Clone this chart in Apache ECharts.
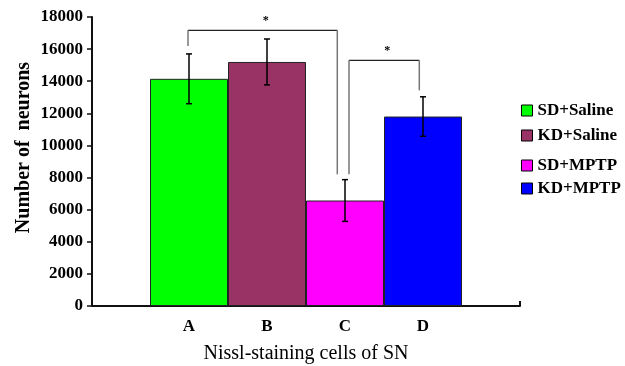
<!DOCTYPE html>
<html>
<head>
<meta charset="utf-8">
<script src="https://cdn.jsdelivr.net/npm/echarts@6/dist/echarts.min.js"></script>
<style>html,body{margin:0;padding:0;background:#fff}#c{width:625px;height:366px}</style>
</head>
<body>
<div id="c"></div>
<script>
// ---- data ----
const groups = ['SD+Saline', 'KD+Saline', 'SD+MPTP', 'KD+MPTP'];
const groupLabels = ['A', 'B', 'C', 'D'];
const means = [14150, 15200, 6570, 11800];
const errors = [1550, 1430, 1300, 1230];
const colors = ['#00ff00', '#993366', '#ff00ff', '#0000ff'];
const yTicks = [0, 2000, 4000, 6000, 8000, 10000, 12000, 14000, 16000, 18000];
// significance brackets: [fromGroup, toGroup, topValue, leftEndValue, rightEndValue, mark]
const brackets = [
  [0, 2, 17170, 16200, 8200, '*'],
  [2, 3, 15300, 8200, 13430, '*']
];

const BAR_W = 78;
const bracketOffsets = [[-1, -7.7], [4, -3.7]]; // px nudges of bracket legs

const chart = echarts.init(document.getElementById('c'), null, {renderer: 'canvas'});
const serif = '"Liberation Serif", "Times New Roman", serif';

const barSeries = groups.map((g, i) => ({
  name: g,
  type: 'bar',
  data: [means[i]],
  barWidth: BAR_W,
  barGap: '0%',
  itemStyle: {color: colors[i], borderColor: '#222', borderWidth: 1},
  label: {
    show: true, position: 'bottom', distance: 12,
    formatter: () => groupLabels[i],
    fontFamily: serif, fontWeight: 'bold', fontSize: 17, color: '#000'
  },
  emphasis: {disabled: true},
  z: 2
}));

function xOf(api, idx) {
  const c = api.coord([0, 0]);
  return c[0] + (idx - (groups.length - 1) / 2) * BAR_W;
}

const errSeries = {
  type: 'custom',
  data: means.map((m, i) => [0, m + errors[i], m - errors[i], i]),
  renderItem: function (params, api) {
    const i = api.value(3);
    const x = xOf(api, i);
    const yHi = api.coord([0, api.value(1)])[1];
    const yLo = api.coord([0, api.value(2)])[1];
    const st = {stroke: '#000', lineWidth: 1.5};
    const cap = 3;
    return {
      type: 'group',
      children: [
        {type: 'line', shape: {x1: x, y1: yHi, x2: x, y2: yLo}, style: st},
        {type: 'line', shape: {x1: x - cap, y1: yHi, x2: x + cap, y2: yHi}, style: st},
        {type: 'line', shape: {x1: x - cap, y1: yLo, x2: x + cap, y2: yLo}, style: st}
      ]
    };
  },
  z: 5,
  silent: true
};

const bracketSeries = {
  type: 'custom',
  data: brackets.map((b, k) => [0, b[2], b[3], b[4], b[0], b[1], k]),
  renderItem: function (params, api) {
    const k = api.value(6);
    const b = brackets[k];
    const off = bracketOffsets[k];
    const xl = xOf(api, b[0]) + off[0];
    const xr = xOf(api, b[1]) + off[1];
    const yt = api.coord([0, b[2]])[1];
    const yl = api.coord([0, b[3]])[1];
    const yr = api.coord([0, b[4]])[1];
    return {
      type: 'group',
      children: [
        {type: 'line', shape: {x1: xl, y1: yt, x2: xr, y2: yt}, style: {stroke: '#222', lineWidth: 1.3}},
        {type: 'line', shape: {x1: xl, y1: yt, x2: xl, y2: yl}, style: {stroke: '#777', lineWidth: 1.5}},
        {type: 'line', shape: {x1: xr, y1: yt, x2: xr, y2: yr}, style: {stroke: '#777', lineWidth: 1.5}},
        {type: 'text', style: {text: b[5], x: (xl + xr) / 2 + 3, y: yt - 3, align: 'center', verticalAlign: 'bottom',
          font: 'bold 12px ' + serif, fill: '#000'}}
      ]
    };
  },
  z: 6,
  silent: true
};

const legendText = {fontFamily: serif, fontWeight: 'bold', fontSize: 17, color: '#000', lineHeight: 17};

chart.setOption({
  animation: false,
  backgroundColor: '#fff',
  grid: {left: 92, right: 105, top: 17, bottom: 60, containLabel: false, outerBoundsMode: 'none'},
  legend: [
    {data: groups.slice(0, 2), orient: 'vertical', left: 521, top: 102, itemWidth: 11, itemHeight: 11,
      itemGap: 8, icon: 'rect', itemStyle: {borderColor: '#000', borderWidth: 1}, textStyle: legendText, padding: 0},
    {data: groups.slice(2, 4), orient: 'vertical', left: 521, top: 157, itemWidth: 11, itemHeight: 11,
      itemGap: 6, icon: 'rect', itemStyle: {borderColor: '#000', borderWidth: 1}, textStyle: legendText, padding: 0}
  ],
  xAxis: {
    type: 'category',
    data: [''],
    boundaryGap: true,
    axisLine: {lineStyle: {color: '#111', width: 2}},
    axisTick: {show: true, inside: true, length: 5, lineStyle: {color: '#111', width: 2}},
    axisLabel: {show: false},
    name: 'Nissl-staining cells of SN',
    nameLocation: 'middle',
    nameGap: 38,
    nameMoveOverlap: false,
    nameTextStyle: {fontFamily: serif, fontSize: 20, color: '#000'}
  },
  yAxis: {
    type: 'value',
    min: yTicks[0],
    max: yTicks[yTicks.length - 1],
    interval: yTicks[1] - yTicks[0],
    axisLine: {show: true, lineStyle: {color: '#111', width: 2}},
    axisTick: {show: true, length: 5, lineStyle: {color: '#111', width: 1.5}},
    splitLine: {show: false},
    axisLabel: {margin: 9, fontFamily: serif, fontWeight: 'bold', fontSize: 17, color: '#000',
      formatter: v => String(v)},
    name: 'Number of  neurons',
    nameLocation: 'middle',
    nameGap: 58,
    nameMoveOverlap: false,
    nameTextStyle: {fontFamily: serif, fontWeight: 'bold', fontSize: 20, color: '#000', padding: [0, 0, 0, 28]}
  },
  series: [...barSeries, errSeries, bracketSeries]
});
</script>
</body>
</html>
